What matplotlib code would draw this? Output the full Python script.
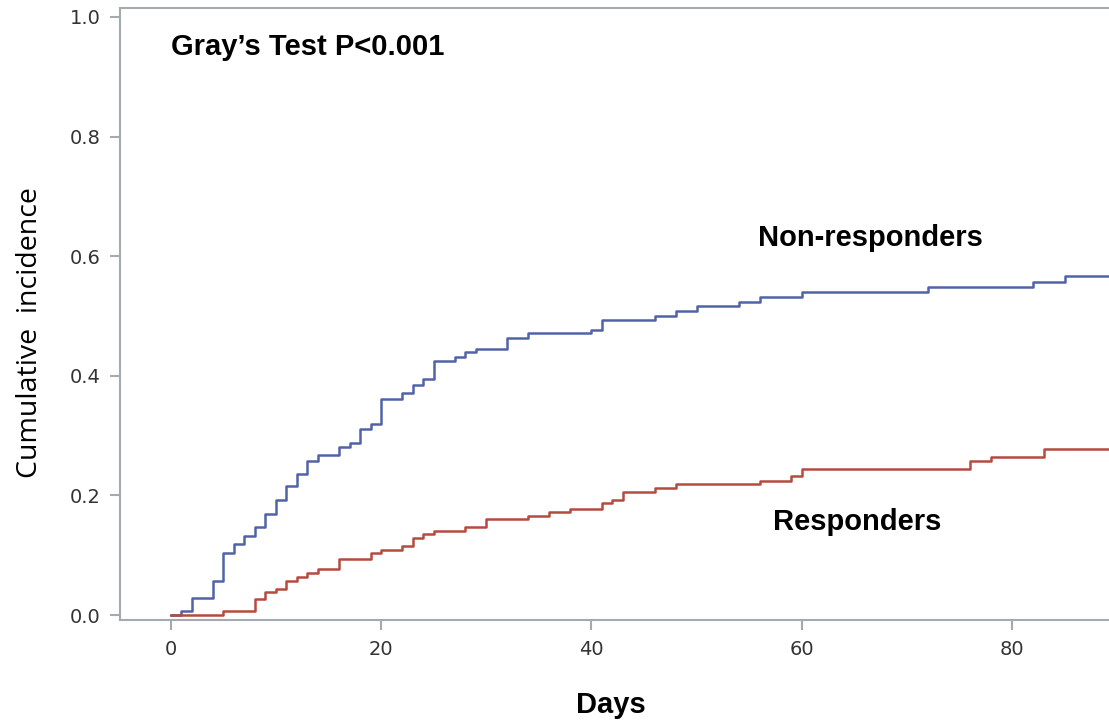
import numpy as np
import matplotlib
matplotlib.use('Agg')
import matplotlib.pyplot as plt

#Days where the cumulative incidence curve of the non-responders steps up, and the value after each step.
nonresp_days = [0, 1, 2, 4, 5, 6, 7, 8, 9, 10, 11, 12, 13, 14, 16, 17, 18, 19, 20, 22, 23, 24, 25, 27, 28, 29,
                32, 34, 40, 41, 46, 48, 50, 54, 56, 60, 72, 82, 85, 90]
nonresp_ci = [0.000, 0.006, 0.028, 0.057, 0.103, 0.118, 0.132, 0.147, 0.169, 0.192, 0.215, 0.235, 0.258, 0.267,
              0.281, 0.287, 0.311, 0.319, 0.362, 0.371, 0.385, 0.394, 0.425, 0.431, 0.439, 0.445, 0.463, 0.472,
              0.477, 0.494, 0.500, 0.508, 0.517, 0.523, 0.531, 0.540, 0.548, 0.557, 0.566, 0.566]

#Same thing for the responders.
resp_days = [0, 5, 8, 9, 10, 11, 12, 13, 14, 16, 19, 20, 22, 23, 24, 25, 28, 30, 34, 36, 38, 41, 42, 43, 46, 48,
             56, 59, 60, 76, 78, 83, 90]
resp_ci = [0.000, 0.006, 0.026, 0.038, 0.043, 0.057, 0.063, 0.070, 0.077, 0.094, 0.103, 0.108, 0.115, 0.129,
           0.135, 0.141, 0.147, 0.161, 0.166, 0.173, 0.177, 0.187, 0.192, 0.205, 0.212, 0.219, 0.224, 0.232,
           0.244, 0.258, 0.264, 0.278, 0.278]

x_ticks = [0, 20, 40, 60, 80]
y_ticks = [0.0, 0.2, 0.4, 0.6, 0.8, 1.0]

#Fonts used for the labels.
bold_font = {'family': 'Liberation Sans', 'weight': 'bold', 'size': 21}
ylab_font = {'family': 'Open Sans', 'size': 20.5}

blue = '#5062a8'
red = '#b54a3e'
axis_grey = '#a3abaf'

fig = plt.figure(figsize=(11.09, 7.21), dpi=100)
#The plot runs off the right edge of the picture, so the axes go right up to the edge.
ax = fig.add_axes([0.1082, 0.140, 0.8918, 0.849])

#Step curves, a step happens at each event day.
ax.step(nonresp_days, nonresp_ci, where='post', color=blue, linewidth=1.8)
ax.step(resp_days, resp_ci, where='post', color=red, linewidth=1.8)

ax.set_xlim(-4.82, 89.2)
ax.set_ylim(-0.0084, 1.015)
ax.set_xticks(x_ticks)
ax.set_yticks(y_ticks)
ax.set_yticklabels(['%.1f' % v for v in y_ticks])

#Grey frame, no right side since it is cut off.
ax.spines['right'].set_visible(False)
for side in ['left', 'bottom', 'top']:
    ax.spines[side].set_color(axis_grey)
    ax.spines[side].set_linewidth(1.5)
ax.tick_params(axis='both', direction='out', length=7, width=1.5, color=axis_grey,
               labelsize=14, labelcolor='#333333', pad=7)
for lab in ax.get_xticklabels() + ax.get_yticklabels():
    lab.set_family('DejaVu Sans')

#Axis titles, placed by hand to sit where they are in the original.
ax.set_ylabel('Cumulative  incidence', fontdict=ylab_font)
ax.yaxis.set_label_coords(-0.077, 0.47)
ax.set_xlabel('Days', fontdict=bold_font)
ax.xaxis.set_label_coords(0.4965, -0.116)

#Text annotations inside the plot.
ax.text(0, 0.950, 'Gray\u2019s Test P<0.001', fontdict=bold_font, va='center', ha='left')
ax.text(55.8, 0.63, 'Non-responders', fontdict=bold_font, va='center', ha='left')
ax.text(57.3, 0.155, 'Responders', fontdict=bold_font, va='center', ha='left')

plt.savefig('out.png', dpi=100)
